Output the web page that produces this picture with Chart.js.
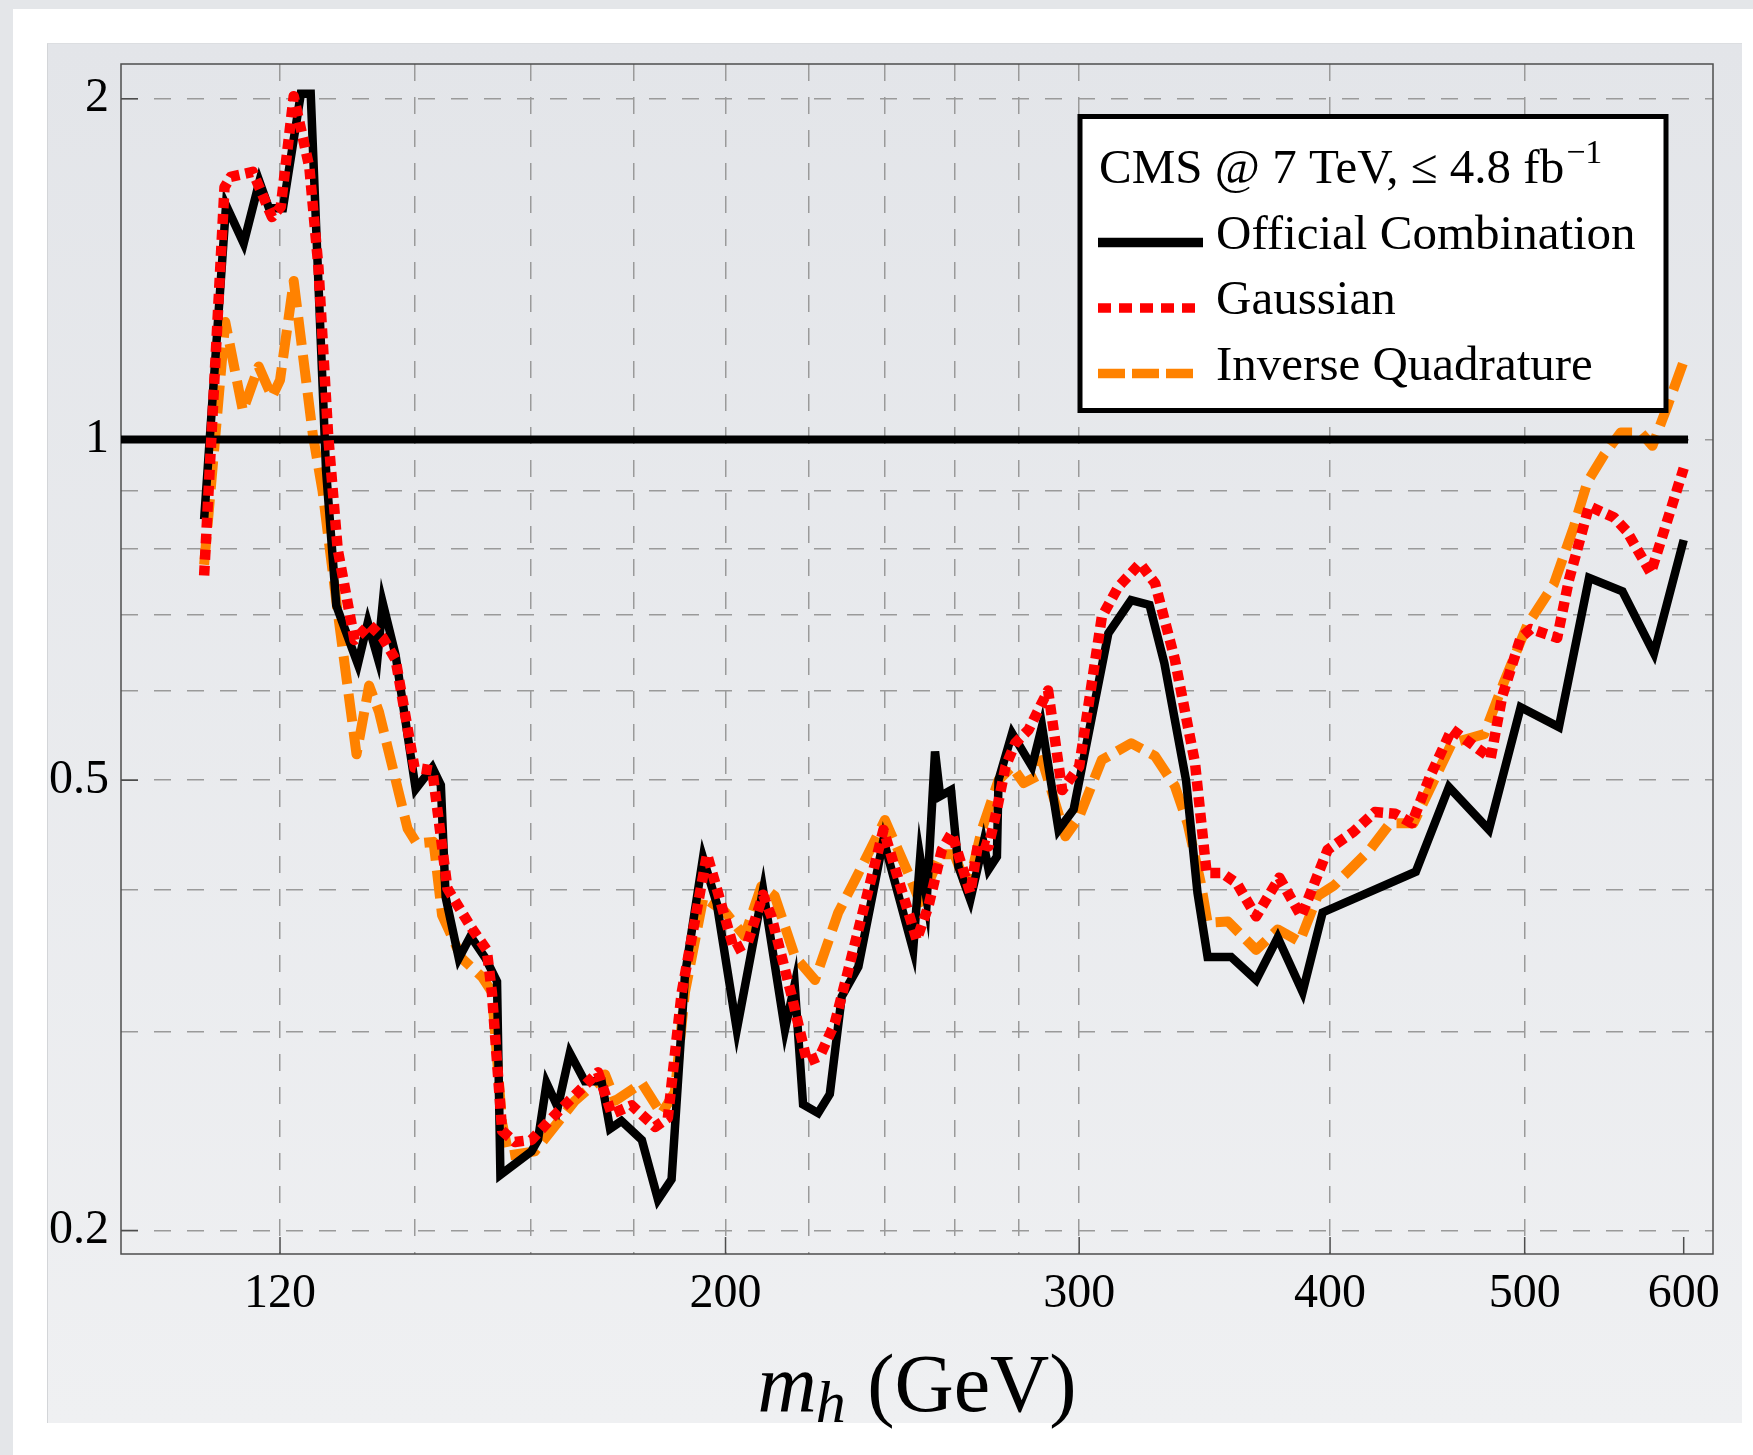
<!DOCTYPE html>
<html>
<head>
<meta charset="utf-8">
<script src="https://cdn.jsdelivr.net/npm/chart.js@4.4.0/dist/chart.umd.min.js"></script>
<style>
html, body { margin: 0; padding: 0; }
body { width: 1753px; height: 1455px; position: relative; overflow: hidden; background: #e4e6e9; }
#sheet { position: absolute; left: 13px; top: 9px; right: 0; bottom: 0; background: #fff; }
#panel { position: absolute; left: 47px; top: 43px; width: 1694px; height: 1379px;
         background: linear-gradient(#e3e5e9, #eff0f2); border-left: 1px solid #d3d5d8; border-top: 1px solid #dcdee1; }
canvas { position: absolute; left: 0; top: 0; }
</style>
</head>
<body>
<div id="sheet"></div>
<div id="panel"></div>
<canvas id="limits" width="1753" height="1455"></canvas>
<script>
// ratio to SM
let officialMass = [110, 112.8, 115.1, 117.2, 118.5, 120.4, 122.9, 124.3, 126.5, 128, 131.2, 132.7, 134.2, 135, 137,
  140.2, 142.9, 144.3, 145.1, 147.3, 149.3, 151.9, 153.9, 154.5, 160.1, 161.3, 162.9, 165, 167.3, 170.2, 173.5,
  175.2, 177.5, 181.7, 185.1, 188, 190.9, 194.9, 198, 202.6, 208.8, 214.1, 216.5, 218.6, 222.4, 225.4, 228.5,
  232.9, 239.7, 248, 250, 251.9, 254.3, 255.8, 259, 261.2, 264.8, 268.8, 270.4, 273, 273.5, 277.8, 284.2, 287.5,
  293, 298.1, 310.2, 318.4, 325.2, 330.8, 339.1, 343.6, 347.6, 357.1, 367.5, 376.7, 387.6, 396.6, 441.3, 458.4,
  479.9, 497.7, 520, 538.3, 559.3, 579.9, 600];
let officialLimit = [0.85, 1.61, 1.49, 1.69, 1.60, 1.60, 2.02, 2.02, 0.94, 0.713, 0.633, 0.689, 0.642, 0.717, 0.645,
  0.491, 0.513, 0.495, 0.394, 0.348, 0.364, 0.348, 0.332, 0.224, 0.235, 0.2405, 0.27, 0.257, 0.287, 0.271, 0.271,
  0.246, 0.25, 0.2405, 0.213, 0.222, 0.336, 0.427, 0.389, 0.301, 0.40, 0.301, 0.33, 0.2585, 0.254, 0.264, 0.322,
  0.342, 0.443, 0.354, 0.427, 0.392, 0.530, 0.484, 0.490, 0.4195, 0.392, 0.440, 0.417, 0.428, 0.500, 0.550, 0.514, 0.558,
  0.452, 0.471, 0.674, 0.721, 0.714, 0.634, 0.50, 0.3975, 0.349, 0.349, 0.333, 0.363, 0.325, 0.382, 0.415, 0.493,
  0.452, 0.580, 0.557, 0.7545, 0.734, 0.647, 0.815];

let gaussianMass = [110, 112.6, 113.4, 116.3, 118.9, 120.1, 121.9, 124.1, 125.4, 126.8, 128.2, 130.7, 132.9, 135, 137,
  140, 142.9, 145.4, 149.5, 152.1, 153, 154.8, 157.1, 160.1, 163.9, 172.8, 175.5, 179.6, 184.5, 187.2, 190.2,
  195.8, 202, 205.1, 208.8, 210.8, 215.8, 219.6, 222.8, 226.7, 229.8, 239.7, 249, 252.4, 256.3, 259.2, 264.8,
  267.2, 270.4, 273, 275.7, 278.8, 283.1, 289.5, 294.2, 300, 307.9, 313.8, 321.7, 327.3, 334.8, 342.6, 347.2,
  353.3, 359.4, 367.5, 377.4, 387, 398.9, 410.8, 421.1, 431, 439.3, 448.6, 459.9, 467.9, 480.9, 487.3, 497.7,
  503.5, 519, 526, 538.3, 554, 562, 577.8, 600];
let gaussianLimit = [0.758, 1.67, 1.706, 1.723, 1.572, 1.605, 2.01, 1.74, 1.42, 1.01, 0.80, 0.665, 0.686, 0.668, 0.639,
  0.513, 0.51, 0.401, 0.370, 0.354, 0.3246, 0.245, 0.2395, 0.2405, 0.2515, 0.276, 0.2536, 0.258, 0.247, 0.2515, 0.3246,
  0.430, 0.354, 0.359, 0.396, 0.379, 0.322, 0.282, 0.285, 0.305, 0.3354, 0.452, 0.3614, 0.387, 0.434, 0.449, 0.3975,
  0.44, 0.437, 0.471, 0.514, 0.539, 0.554, 0.60, 0.490, 0.514, 0.697, 0.741, 0.777, 0.746, 0.639, 0.518, 0.414,
  0.414, 0.4055, 0.379, 0.41, 0.379, 0.434, 0.45, 0.4686, 0.467, 0.458, 0.504, 0.5544, 0.542, 0.523, 0.593, 0.668,
  0.680, 0.668, 0.751, 0.873, 0.853, 0.830, 0.762, 0.943];

let quadMass = [110, 112.7, 115, 117.1, 118.9, 120, 121.9, 124.6, 126, 128, 131, 132.9, 134.4, 138.9, 140.4, 143.1,
  144.5, 147.8, 151.3, 153, 154.8, 156, 160.7, 168.3, 174.2, 176.3, 181.7, 185.8, 188.7, 190.9, 195, 200, 204.4,
  208.4, 211.6, 216.6, 221.6, 227.6, 232, 240.1, 246.6, 250, 256, 260, 264, 268.3, 273.5, 277.8, 281.5, 285.8,
  287.5, 295.3, 300, 307.9, 318.4, 327.3, 334.8, 339.7, 344.9, 347.6, 355.8, 367.5, 376.7, 386.3, 394.3, 401.8,
  418.7, 428.5, 440.1, 459.9, 477.3, 488.2, 501.6, 517, 529.1, 537.3, 547.6, 558.2, 571.2, 578.9, 588.9, 600];
let quadLimit = [0.775, 1.27, 1.06, 1.16, 1.09, 1.128, 1.38, 1.01, 0.9, 0.72, 0.527, 0.606, 0.575, 0.453, 0.4395, 0.441,
  0.380, 0.348, 0.335, 0.325, 0.249, 0.233, 0.235, 0.2605, 0.2747, 0.2605, 0.27, 0.2536, 0.265, 0.3246, 0.394, 0.382, 0.364,
  0.403, 0.395, 0.349, 0.333, 0.382, 0.408, 0.461, 0.414, 0.39, 0.43, 0.43, 0.40, 0.452, 0.50, 0.514, 0.497, 0.504,
  0.521, 0.446, 0.464, 0.521, 0.539, 0.525, 0.494, 0.458, 0.4055, 0.374, 0.375, 0.354, 0.369, 0.360, 0.395, 0.4035,
  0.434, 0.458, 0.458, 0.539, 0.549, 0.610, 0.686, 0.745, 0.838, 0.917, 0.969, 1.014, 1.014, 0.987, 1.07, 1.172];

// the "ratio = 1" line
let smMass = [99.5, 603];
let smLimit = [1, 1];

let xTickValues = [120, 140, 160, 180, 200, 220, 240, 260, 280, 300, 400, 500, 600];
let xLabelValues = [120, 200, 300, 400, 500, 600];
let yTickValues = [0.2, 0.3, 0.4, 0.5, 0.6, 0.7, 0.8, 0.9, 1, 2];
let yLabelValues = [0.2, 0.5, 1, 2];

let serif = '"Liberation Serif", "Times New Roman", serif';
let gridGray = '#9a9a9a';

function pairs(xs, ys) {
  return xs.map(function(x, i) { return {x: x, y: ys[i]}; });
}

// frame round the plot + the major tick marks (they sit inside)
let framePlugin = {
  id: 'frame',
  beforeDatasetsDraw: function(chart) {
    let c = chart.ctx, a = chart.chartArea;
    let xs = chart.scales.x, ys = chart.scales.y;
    c.save();
    c.strokeStyle = '#4d4d4d';
    c.lineWidth = 1.5;
    c.strokeRect(a.left, a.top, a.right - a.left, a.bottom - a.top);
    c.beginPath();
    xLabelValues.forEach(function(v) {
      let px = xs.getPixelForValue(v);
      c.moveTo(px, a.bottom);
      c.lineTo(px, a.bottom - 17);
    });
    yLabelValues.forEach(function(v) {
      let py = ys.getPixelForValue(v);
      c.moveTo(a.left, py);
      c.lineTo(a.left + 17, py);
    });
    c.stroke();
    c.restore();
  }
};

let legendPlugin = {
  id: 'cmsLegend',
  afterDraw: function(chart) {
    let c = chart.ctx, a = chart.chartArea;
    let bx = a.right - 633, by = a.top + 52.5, bw = 586, bh = 294;
    c.save();
    c.fillStyle = '#fff';
    c.fillRect(bx, by, bw, bh);
    c.lineWidth = 5;
    c.strokeStyle = '#000';
    c.strokeRect(bx, by, bw, bh);

    c.fillStyle = '#000';
    c.textAlign = 'left';
    c.textBaseline = 'alphabetic';
    c.font = '49px ' + serif;
    let head = 'CMS @ 7 TeV, \u2264 4.8 fb';
    c.fillText(head, bx + 19, by + 66);
    let hw = c.measureText(head).width;
    c.font = '34px ' + serif;
    c.fillText('\u22121', bx + 19 + hw + 2, by + 46);

    let rows = [
      {label: 'Official Combination', color: '#000', dash: [], len: 105},
      {label: 'Gaussian', color: '#ff0000', dash: [13, 8], len: 97},
      {label: 'Inverse Quadrature', color: '#ff8200', dash: [27, 7], len: 95}
    ];
    rows.forEach(function(r, i) {
      let ly = by + 126 + i * 65.5;
      c.beginPath();
      c.setLineDash(r.dash);
      c.lineCap = 'butt';
      c.lineWidth = 9.5;
      c.strokeStyle = r.color;
      c.moveTo(bx + 18, ly);
      c.lineTo(bx + 18 + r.len, ly);
      c.stroke();
      c.setLineDash([]);
      c.font = '49px ' + serif;
      c.fillStyle = '#000';
      c.fillText(r.label, bx + 136, ly + 6);
    });
    c.restore();
  }
};

// x axis title: italic m with subscript h, then (GeV)
let titlePlugin = {
  id: 'massTitle',
  afterDraw: function(chart) {
    let c = chart.ctx, a = chart.chartArea;
    let cx = (a.left + a.right) / 2, base = a.bottom + 157;
    c.save();
    c.fillStyle = '#000';
    c.textBaseline = 'alphabetic';
    c.textAlign = 'left';
    c.font = 'italic 82px ' + serif;
    let wm = c.measureText('m').width;
    c.font = 'italic 60px ' + serif;
    let wh = c.measureText('h').width;
    c.font = '82px ' + serif;
    let wg = c.measureText(' (GeV)').width;
    let x0 = cx - (wm + wh + wg) / 2;
    c.font = 'italic 82px ' + serif;
    c.fillText('m', x0, base);
    c.font = 'italic 60px ' + serif;
    c.fillText('h', x0 + wm - 1, base + 11);
    c.font = '82px ' + serif;
    c.fillText(' (GeV)', x0 + wm + wh, base);
    c.restore();
  }
};

var ctx = document.getElementById('limits').getContext('2d');
var chart = new Chart(ctx, {
  type: 'line',
  data: {
    datasets: [{
      label: 'Gaussian',
      data: pairs(gaussianMass, gaussianLimit),
      borderColor: '#ff0000',
      borderWidth: 10.5,
      borderDash: [10, 6],
      borderCapStyle: 'butt',
      borderJoinStyle: 'round'
    }, {
      label: 'Official Combination',
      data: pairs(officialMass, officialLimit),
      borderColor: '#000',
      borderWidth: 8.5
    }, {
      label: 'SM',
      data: pairs(smMass, smLimit),
      borderColor: '#000',
      borderWidth: 8
    }, {
      label: 'Inverse Quadrature',
      data: pairs(quadMass, quadLimit),
      borderColor: '#ff8200',
      borderWidth: 10,
      borderDash: [28, 10],
      borderCapStyle: 'butt',
      borderJoinStyle: 'round'
    }]
  },
  options: {
    responsive: false,
    animation: false,
    devicePixelRatio: 1,
    events: [],
    elements: {
      point: { radius: 0, hoverRadius: 0 },
      line: { tension: 0, fill: false }
    },
    layout: { padding: { left: 0, right: 40, top: 64, bottom: 0 } },
    plugins: {
      legend: { display: false },
      tooltip: { enabled: false }
    },
    scales: {
      x: {
        type: 'logarithmic',
        min: 100,
        max: 620.5,
        afterBuildTicks: function(s) { s.ticks = xTickValues.map(function(v) { return {value: v}; }); },
        afterFit: function(s) { s.height = 201; },
        ticks: {
          autoSkip: false,
          maxRotation: 0,
          padding: 12,
          color: '#000',
          font: { family: serif, size: 48 },
          callback: function(v) { return xLabelValues.indexOf(v) >= 0 ? String(v) : ''; }
        },
        grid: {
          color: function(c) { return (c.tick && c.tick.value === 600) ? 'rgba(0,0,0,0)' : gridGray; },
          lineWidth: 1.5,
          drawTicks: false
        },
        border: { display: false, dash: [17, 16] }
      },
      y: {
        type: 'logarithmic',
        min: 0.1907,
        max: 2.146,
        afterBuildTicks: function(s) { s.ticks = yTickValues.map(function(v) { return {value: v}; }); },
        afterFit: function(s) { s.width = 121; },
        ticks: {
          autoSkip: false,
          padding: 12,
          color: '#000',
          font: { family: serif, size: 48 },
          callback: function(v) { return yLabelValues.indexOf(v) >= 0 ? String(v) : ''; }
        },
        grid: { color: gridGray, lineWidth: 1.5, drawTicks: false },
        border: { display: false, dash: [17, 16] }
      }
    }
  },
  plugins: [framePlugin, legendPlugin, titlePlugin]
});
</script>
</body>
</html>
